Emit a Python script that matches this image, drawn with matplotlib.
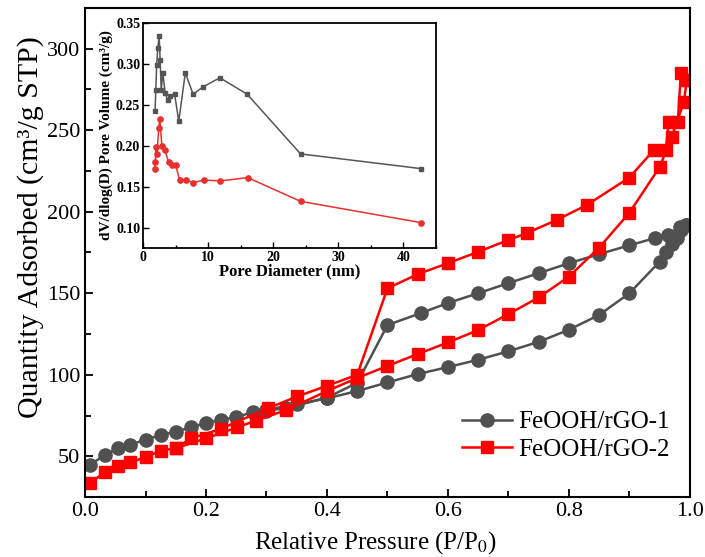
import numpy as np
import matplotlib
matplotlib.use('Agg')
import matplotlib.pyplot as plt
from matplotlib.ticker import MultipleLocator

plt.rcParams['font.family'] = ['Liberation Serif', 'DejaVu Serif']
plt.rcParams['mathtext.fontset'] = 'stix'

# FeOOH/rGO-1 isotherm (adsorption + desorption)
p1_ads = [0.008, 0.033, 0.055, 0.075, 0.1, 0.125, 0.15, 0.175, 0.2, 0.225, 0.25, 0.277, 0.3, 0.35, 0.4, 0.45,
          0.5, 0.55, 0.6, 0.65, 0.7, 0.75, 0.8, 0.85, 0.9, 0.95, 0.96, 0.97, 0.978, 0.986, 0.993]
q1_ads = [44.7, 50.8, 55, 57, 60.2, 63, 65, 67.8, 70.4, 72.4, 74, 77, 78.5, 82, 85.5, 90,
          95.3, 100.4, 104.7, 109.2, 114.4, 120.2, 127.6, 136.7, 150, 169.4, 175.4, 180, 184, 189, 192]
p1_des = [0.993, 0.983, 0.963, 0.942, 0.9, 0.85, 0.8, 0.75, 0.7, 0.65, 0.6, 0.555, 0.5, 0.45, 0.4, 0.333, 0.3]
q1_des = [192, 190.4, 186, 183.8, 179.4, 174, 168.4, 162.3, 156.2, 150, 144, 137.8, 130.5, 95, 86, 79.5, 78]

# FeOOH/rGO-2 isotherm
p2_ads = [0.008, 0.033, 0.055, 0.075, 0.1, 0.125, 0.15, 0.2, 0.252, 0.282, 0.333, 0.4, 0.45, 0.5, 0.55,
          0.6, 0.65, 0.7, 0.75, 0.8, 0.85, 0.9, 0.95, 0.97, 0.99, 0.995]
q2_ads = [33.6, 40.2, 44.2, 46.3, 49.4, 53.4, 54.9, 61, 67.8, 71.8, 78.4, 90, 98, 105.4, 112.7,
          119.8, 127.4, 137.2, 147.4, 160.2, 178, 199.4, 227.4, 246, 267.4, 281]
p2_des = [0.995, 0.985, 0.98, 0.965, 0.96, 0.94, 0.9, 0.83, 0.78, 0.73, 0.7, 0.65, 0.6, 0.55, 0.5, 0.45,
          0.4, 0.351, 0.302, 0.224, 0.175, 0.15]
q2_des = [281, 285, 255, 255, 237.7, 237.7, 221, 204.2, 195, 186.8, 182.7, 175.4, 168.4, 161.7, 153, 100,
          93.2, 86.7, 79.4, 66.7, 61, 55]

# inset: pore size distribution
d1 = [1.86, 1.97, 2.1, 2.27, 2.48, 2.64, 2.8, 3.05, 3.4, 3.77, 4.2, 4.86, 5.5, 6.5, 7.7, 9.25, 11.8, 16.0, 24.2, 42.7]
v1 = [0.243, 0.268, 0.299, 0.319, 0.334, 0.305, 0.268, 0.289, 0.265, 0.256, 0.261, 0.263, 0.230, 0.289, 0.263,
      0.272, 0.283, 0.263, 0.190, 0.172]
d2 = [1.81, 1.9, 2.0, 2.15, 2.43, 2.58, 2.9, 3.36, 3.93, 4.5, 5.0, 5.63, 6.56, 7.75, 9.35, 11.9, 16.1, 24.2, 42.7]
v2 = [0.171, 0.180, 0.199, 0.190, 0.222, 0.233, 0.200, 0.195, 0.180, 0.177, 0.177, 0.158, 0.158, 0.155, 0.158,
      0.157, 0.161, 0.132, 0.106]

gray = '#505050'
red = '#ff0000'

fig = plt.figure(figsize=(7.05, 5.57), dpi=100)
ax = fig.add_axes([0.1206, 0.1077, 0.858, 0.878])

ax.plot(p1_ads, q1_ads, '-o', color=gray, lw=1.8, ms=9.5, label='FeOOH/rGO-1')
ax.plot(p1_des, q1_des, '-o', color=gray, lw=1.8, ms=9.5)
ax.plot(p2_ads, q2_ads, '-s', color=red, lw=1.8, ms=8.5, label='FeOOH/rGO-2')
ax.plot(p2_des, q2_des, '-s', color=red, lw=1.8, ms=8.5)

ax.set_xlim(0, 1.0)
ax.set_ylim(25, 325)
ax.xaxis.set_major_locator(MultipleLocator(0.2))
ax.xaxis.set_minor_locator(MultipleLocator(0.1))
ax.yaxis.set_major_locator(MultipleLocator(50))
ax.yaxis.set_minor_locator(MultipleLocator(25))
ax.xaxis.set_major_formatter(matplotlib.ticker.FormatStrFormatter('%.1f'))
ax.tick_params(which='both', direction='in', top=False, right=False, labelsize=16, width=1.3)
ax.tick_params(which='major', length=6)
ax.tick_params(which='minor', length=4)
for s in ax.spines.values():
    s.set_linewidth(1.5)
ax.set_xlabel('Relative Pressure (P/P$_0$)', fontsize=18, labelpad=5)
ax.xaxis.set_label_coords(0.48, -0.065)
ax.set_ylabel('Quantity Adsorbed (cm³/g STP)', fontsize=21.5, labelpad=6)
ax.yaxis.set_label_coords(-0.068, 0.553)

ax.legend(loc='center left', bbox_to_anchor=(0.623, 0.125), frameon=False, fontsize=18,
          borderpad=0, borderaxespad=0, handlelength=2.0, handletextpad=0.25, labelspacing=0.2)

# inset
ins = fig.add_axes([0.2028, 0.5548, 0.4156, 0.4039])
ins.plot(d1, v1, '-s', color='#555555', lw=1.1, ms=3.5)
ins.plot(d2, v2, '-o', color='#e8302e', lw=1.1, ms=3.8)
ins.set_xlim(0, 45)
ins.set_ylim(0.075, 0.35)
ins.xaxis.set_major_locator(MultipleLocator(10))
ins.xaxis.set_minor_locator(MultipleLocator(5))
ins.yaxis.set_major_locator(MultipleLocator(0.05))
ins.yaxis.set_major_formatter(matplotlib.ticker.FormatStrFormatter('%.2f'))
ins.tick_params(which='both', direction='in', top=False, right=False, labelsize=10, width=1.0, pad=2)
ins.tick_params(which='major', length=4)
ins.tick_params(which='minor', length=2.5)
for lab in ins.get_xticklabels() + ins.get_yticklabels():
    lab.set_fontweight('bold')
for s in ins.spines.values():
    s.set_linewidth(1.3)
ins.set_xlabel('Pore Diameter (nm)', fontsize=12, fontweight='bold', labelpad=0)
ins.set_ylabel('dV/dlog(D) Pore Volume (cm³/g)', fontsize=11, fontweight='bold', labelpad=2)

fig.savefig('out.png', dpi=100)
